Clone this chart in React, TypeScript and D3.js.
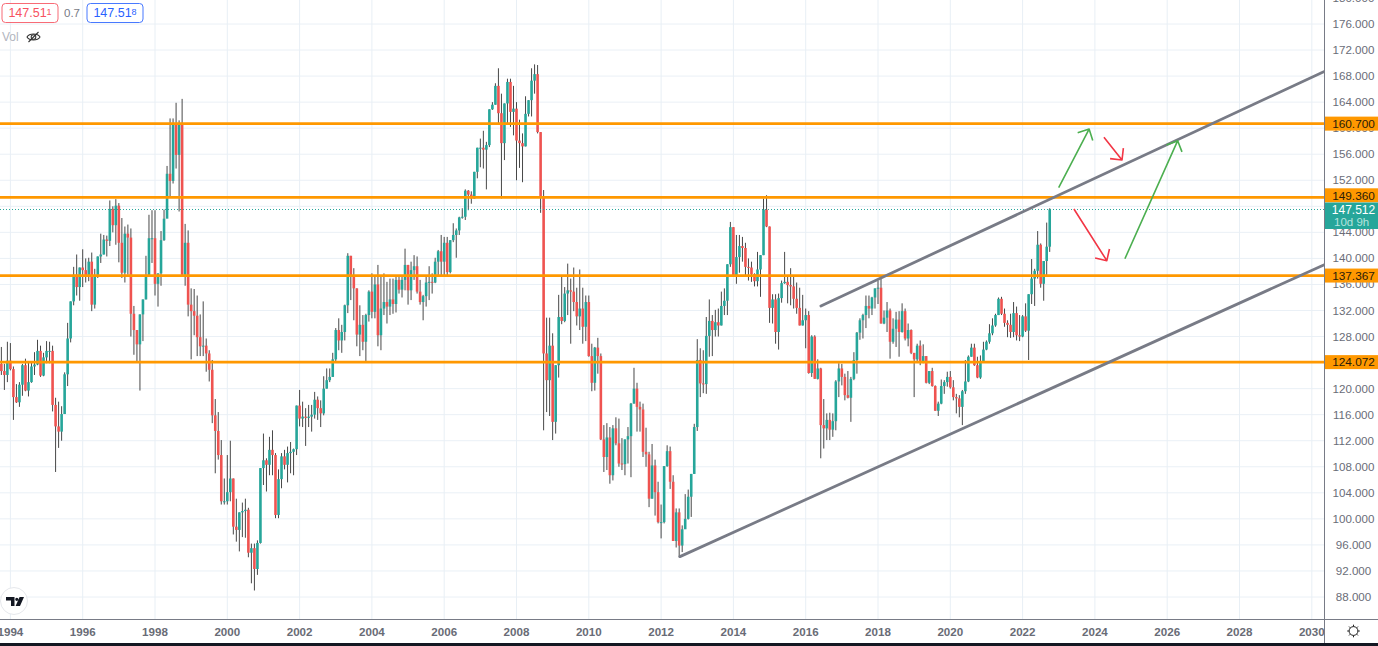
import React from "react";
import * as d3 from "d3";

// Monthly bars, first bar = Oct 1993, last bar = Oct 2022
const firstBarMonthsFromJan1994 = -3;
const firstOpen = 123.8;
const closes = [
  122.7,122.1,124.3,123.0,118.7,117.9,120.6,123.6,119.7,121.0,123.4,123.7,
  125.8,122.0,124.8,125.8,125.8,117.5,114.2,113.4,116.1,122.2,127.7,133.4,
  137.5,135.6,138.6,138.2,137.2,139.5,132.9,137.4,140.3,140.6,142.9,142.7,
  147.6,145.1,148.1,142.4,137.8,143.8,143.2,131.5,129.0,126.8,131.4,133.7,
  137.4,143.1,143.1,136.1,137.7,142.8,146.1,153.0,151.9,160.7,155.9,160.7,
  137.5,142.4,132.9,131.9,131.2,127.9,126.5,126.6,125.4,122.9,115.9,113.5,
  109.8,102.7,102.7,104.1,106.2,98.8,98.3,101.0,101.2,101.4,94.8,95.5,
  92.3,96.3,107.8,109.0,108.3,110.6,109.8,100.6,106.1,109.6,108.3,110.1,
  110.3,110.7,117.4,115.4,115.7,115.5,115.7,116.0,118.3,117.0,116.2,120.0,
  121.3,121.8,124.5,129.0,127.4,128.7,132.8,140.4,137.2,135.4,128.3,129.8,
  127.2,131.3,134.9,131.8,136.0,128.2,132.3,133.3,132.6,133.7,133.0,136.7,
  135.2,136.7,139.0,135.1,138.2,138.8,134.9,133.3,134.2,136.3,136.4,136.3,
  139.5,141.1,139.5,142.4,137.9,142.8,143.6,144.3,146.3,146.4,150.4,149.8,
  149.2,153.3,157.0,157.0,156.7,157.4,162.9,163.6,166.5,162.3,157.7,163.8,
  167.1,162.5,163.0,158.1,157.7,157.2,162.2,164.3,167.3,168.3,159.4,149.5,
  125.4,121.3,126.6,114.9,123.6,131.0,130.4,134.6,135.1,134.9,133.3,131.1,
  132.3,129.5,133.3,125.0,120.9,126.3,125.0,112.2,109.5,112.5,106.7,113.9,
  111.6,108.5,108.4,112.2,112.7,117.7,120.0,117.2,116.8,110.3,109.9,103.1,
  108.2,104.1,99.5,99.5,108.1,110.4,105.7,96.6,101.0,95.9,98.4,100.0,
  103.4,106.9,114.1,124.4,120.8,120.7,128.1,130.4,129.0,130.2,129.7,132.7,
  133.5,139.1,144.8,137.4,140.2,141.9,141.6,138.7,138.6,137.6,136.5,138.3,
  140.5,147.5,144.9,132.4,133.7,128.7,133.9,136.2,136.4,135.9,135.7,133.8,
  132.4,129.7,130.5,131.3,122.4,128.0,121.5,123.1,114.4,113.9,115.2,113.7,
  115.0,121.1,123.1,121.8,119.0,118.6,121.5,124.4,128.6,130.5,131.3,132.7,
  132.3,134.0,135.4,135.5,130.0,130.9,132.0,127.2,129.2,130.6,128.7,131.9,
  127.7,129.0,125.5,124.5,126.6,124.1,125.0,120.9,122.7,120.4,116.6,117.7,
  120.4,121.0,121.8,120.2,118.7,118.5,117.2,119.6,121.1,124.9,126.3,123.6,
  121.7,124.1,126.0,127.2,128.5,129.7,131.3,133.8,131.5,130.1,129.8,128.7,
  131.6,128.2,128.0,131.1,128.9,134.5,136.9,138.1,142.1,136.1,139.6,141.8,147.512,
];
const highs = [
  126.4,123.8,127.2,127.0,123.4,120.7,121.0,123.8,124.6,124.1,124.2,125.6,
  127.5,126.6,125.5,127.3,127.2,126.6,118.6,118.0,117.3,122.5,130.1,133.4,
  138.7,140.6,138.6,141.4,140.0,140.1,140.9,138.4,140.3,143.8,143.6,143.5,
  148.9,148.0,149.1,148.5,146.2,144.9,145.2,144.6,132.7,129.0,131.4,133.7,
  140.4,146.7,147.4,147.4,137.7,144.2,147.5,154.2,161.5,161.5,163.9,161.2,
  164.5,145.3,144.3,135.4,135.3,134.3,131.4,133.4,127.7,125.9,124.4,118.4,
  116.4,112.1,106.2,109.8,112.0,106.2,103.1,101.0,102.5,103.1,101.7,96.2,
  96.2,96.7,107.8,113.1,109.3,112.6,113.6,110.1,107.6,110.1,110.6,111.1,
  111.8,110.8,117.4,119.8,118.0,117.0,117.5,117.5,119.5,118.8,118.2,121.9,
  123.1,123.1,125.5,129.3,130.8,129.8,132.9,140.8,140.4,138.5,135.4,132.8,
  131.3,131.5,135.1,137.7,137.4,139.0,137.4,137.7,136.4,136.9,136.9,137.4,
  137.4,137.3,141.5,139.0,139.5,140.5,140.3,136.7,134.4,137.2,138.8,137.7,
  140.1,141.3,143.6,143.3,143.3,142.8,145.4,144.6,146.4,147.7,150.6,150.5,
  150.3,153.3,157.0,158.4,159.6,157.9,162.9,164.0,166.9,169.2,165.3,163.8,
  167.6,167.6,166.5,164.0,161.3,159.2,164.9,164.3,169.2,169.8,169.7,159.4,
  150.5,130.9,130.9,128.5,123.6,134.4,137.3,135.6,139.2,136.9,138.6,135.5,
  138.3,135.5,134.3,134.3,126.9,126.4,127.8,125.4,114.4,114.7,114.1,114.4,
  115.6,115.4,112.4,112.2,114.1,117.8,123.2,120.9,118.0,117.7,114.0,110.3,
  111.5,109.1,105.7,102.2,108.1,111.3,111.1,106.7,101.6,101.6,99.0,103.8,
  104.5,106.9,114.6,127.6,126.2,125.9,131.0,133.7,131.3,132.1,132.3,134.9,
  135.4,139.1,145.6,144.8,143.6,143.6,143.3,142.4,140.0,139.5,137.7,141.0,
  140.5,149.2,149.7,144.9,134.5,134.5,134.6,136.6,141.0,137.2,138.5,137.4,
  136.3,135.5,134.4,132.3,131.9,128.2,128.2,124.5,123.2,118.4,116.2,116.3,
  116.2,121.3,123.9,123.8,122.3,122.7,121.8,125.6,128.7,130.8,131.5,134.3,
  134.3,134.1,135.4,136.6,137.4,132.0,133.3,132.3,130.8,131.8,131.9,133.1,
  132.3,130.0,129.1,125.4,126.9,127.4,126.8,125.0,122.7,123.2,120.5,118.0,
  121.4,121.3,122.6,122.7,121.3,119.2,119.0,119.8,124.4,125.1,126.9,126.9,
  124.9,125.1,127.2,127.4,129.9,130.8,131.5,134.0,134.1,132.3,130.5,131.5,
  133.3,132.6,131.3,131.3,133.1,134.5,139.9,138.4,144.2,142.3,139.6,145.5,147.7,
];
const lows = [
  122.1,119.8,121.0,122.8,115.2,117.8,117.2,118.9,119.6,118.8,120.9,122.1,
  123.6,121.8,121.9,123.9,123.9,116.5,107.2,110.9,112.0,116.1,120.4,127.1,
  132.8,134.3,133.5,135.6,136.3,136.5,131.9,132.3,137.0,139.3,140.6,140.3,
  141.9,144.0,142.1,139.4,137.0,136.3,137.5,128.0,125.2,124.1,119.7,127.3,
  133.7,137.2,139.3,134.3,132.6,135.8,142.7,147.2,149.3,151.5,153.8,147.2,
  137.4,135.8,131.1,124.5,128.2,125.0,125.0,125.0,122.6,121.1,114.7,107.0,
  109.1,102.2,102.2,102.2,102.7,97.6,96.5,95.0,97.2,97.1,94.1,90.1,
  89.0,91.4,96.2,105.2,104.2,106.7,106.7,100.1,100.1,104.7,107.6,105.6,
  107.0,106.7,109.8,114.2,114.1,111.2,114.1,113.4,115.4,115.2,114.1,115.9,
  120.0,121.0,121.8,124.1,125.9,125.5,127.4,131.6,133.6,130.5,126.5,125.0,
  125.9,124.1,130.3,130.8,130.8,126.5,125.9,131.3,130.0,131.3,131.5,131.7,
  134.6,134.0,135.1,132.9,133.6,136.7,134.6,132.9,130.5,132.6,133.6,134.6,
  136.2,137.4,137.4,137.3,137.2,137.7,142.5,140.1,143.6,146.1,145.9,147.4,
  148.4,149.2,152.3,154.0,153.8,150.6,157.1,162.8,163.6,160.5,149.2,155.1,
  160.7,160.2,158.9,152.0,153.9,151.7,157.2,161.8,161.8,165.3,159.2,147.0,
  113.6,116.4,115.8,112.1,113.1,121.7,129.9,130.2,131.3,126.9,131.9,129.7,
  129.0,126.9,127.3,124.9,119.6,119.7,122.3,112.1,107.2,107.5,105.4,105.9,
  111.3,108.0,107.5,106.7,108.5,106.4,117.7,113.4,113.4,109.5,108.0,101.8,
  103.1,100.5,99.3,97.0,99.3,108.0,104.6,96.6,95.6,94.1,94.9,98.5,
  99.9,100.3,106.9,113.5,118.7,119.3,119.2,124.9,125.0,128.0,128.0,129.7,
  131.3,131.3,138.7,137.4,136.1,137.8,139.5,137.4,136.6,136.4,135.7,135.7,
  134.1,140.5,144.8,130.1,130.0,126.9,126.0,133.2,136.1,133.1,132.8,132.3,
  131.5,129.7,129.7,126.2,122.3,121.8,121.5,121.4,109.3,110.8,112.1,112.1,
  112.6,113.6,118.7,120.5,118.2,118.5,114.9,121.3,122.3,127.5,127.7,129.3,
  130.8,131.3,132.3,133.0,130.0,129.9,128.7,124.6,126.9,126.4,124.9,128.6,
  127.4,126.5,125.3,118.7,124.1,123.6,123.9,120.8,120.7,120.3,116.6,115.8,
  117.6,119.2,120.3,120.0,118.2,116.2,115.6,114.4,119.2,121.0,124.9,123.5,
  121.6,121.5,124.1,125.9,126.9,128.2,129.5,131.3,131.3,129.5,127.9,127.8,
  127.9,127.4,127.3,127.9,128.7,124.4,133.0,132.7,136.9,135.5,133.5,137.4,141.0,
];

const yearTicks = [1994, 1996, 1998, 2000, 2002, 2004, 2006, 2008, 2010, 2012, 2014, 2016, 2018, 2020, 2022, 2024, 2026, 2028, 2030];
const priceTicks = [180, 176, 172, 168, 164, 160, 156, 152, 148, 144, 140, 136, 132, 128, 124, 120, 116, 112, 108, 104, 100, 96, 92, 88];
const pricesCoveredByLabels = [148, 124];
const levels = [160.7, 149.36, 137.367, 124.072];
const lastPrice = 147.512;

// Trend lines: [year, price] -> [year, price]
const trendLowerFrom = [2012.52, 94.2];
const trendLowerTo = [2030.33, 139.0];
const trendUpperFrom = [2016.42, 132.7];
const trendUpperTo = [2030.33, 168.67];

// Hand-drawn arrows: tail year, tail price, tip year, tip price
const greenArrows = [
  [2022.998, 150.86, 2023.84, 159.87],
  [2024.83, 139.95, 2026.29, 158.08],
];
const redArrows = [
  [2024.25, 158.6, 2024.75, 155.11],
  [2023.42, 147.59, 2024.33, 139.65],
];

const W = 1378;
const H = 646;
const axisX = 1324.5;
const axisY = 619.5;
const FONT = "'Liberation Sans', Arial, sans-serif";

const x = d3.scaleLinear().domain([1994, 2030]).range([10.4, 1311.8]);
const y = d3.scaleLinear().domain([88, 176]).range([597, 24]);

const bars = closes.map((c, i) => ({
  t: 1994 + (firstBarMonthsFromJan1994 + i) / 12,
  o: i === 0 ? firstOpen : closes[i - 1],
  h: highs[i],
  l: lows[i],
  c,
}));

function Arrow({ a, color }: { a: number[]; color: string }) {
  const x0 = x(a[0]), y0 = y(a[1]), x1 = x(a[2]), y1 = y(a[3]);
  const ang = Math.atan2(y0 - y1, x0 - x1);
  const len = 12;
  const b1 = [x1 + len * Math.cos(ang + Math.PI / 4), y1 + len * Math.sin(ang + Math.PI / 4)];
  const b2 = [x1 + len * Math.cos(ang - Math.PI / 4), y1 + len * Math.sin(ang - Math.PI / 4)];
  return (
    <path
      d={`M${x0},${y0}L${x1},${y1}M${b1[0]},${b1[1]}L${x1},${y1}L${b2[0]},${b2[1]}`}
      fill="none"
      stroke={color}
      strokeWidth={1.6}
      strokeLinejoin="round"
    />
  );
}

function Pill({ px, w, color, main, sup }: { px: number; w: number; color: string; main: string; sup: string }) {
  return (
    <g>
      <rect x={px} y={3.5} width={w} height={19} rx={3.5} fill="#fff" stroke={color} strokeWidth={1} opacity={0.85} />
      <text x={px + w / 2} y={17.3} textAnchor="middle" fontSize={12.5} fill={color}>
        {main}
        <tspan fontSize={9} dy={-2}>{sup}</tspan>
      </text>
    </g>
  );
}

function PriceLabel({ price, cy }: { price: number; cy: number }) {
  return (
    <g>
      <rect x={axisX} y={cy - 7} width={W - axisX} height={14} fill="#ff9800" />
      <text x={1353.5} y={cy + 4.2} textAnchor="middle" fontSize={11.8} fill="#2a1c08">{price.toFixed(3)}</text>
    </g>
  );
}

export default function App() {
  return (
    <svg
      width={W}
      height={H}
      viewBox={`0 0 ${W} ${H}`}
      style={{ position: "absolute", left: 0, top: 0, display: "block", background: "#fff" }}
      fontFamily={FONT}
    >
      <defs>
        <clipPath id="plot"><rect x={0} y={0} width={axisX} height={axisY} /></clipPath>
      </defs>

      <g clipPath="url(#plot)">
        {priceTicks.map((p) => (
          <line key={p} x1={0} x2={axisX} y1={y(p)} y2={y(p)} stroke="#eaf0f6" strokeWidth={1} />
        ))}
        {yearTicks.map((t) => (
          <line key={t} x1={x(t)} x2={x(t)} y1={0} y2={axisY} stroke="#e8eff5" strokeWidth={1} />
        ))}

        {bars.map((b) => (
          <line key={`w${b.t}`} x1={x(b.t)} x2={x(b.t)} y1={y(b.h)} y2={y(b.l)} stroke="#484848" strokeWidth={1} />
        ))}
        {bars.map((b) => {
          const up = b.c >= b.o;
          const top = y(Math.max(b.o, b.c));
          const bottom = y(Math.min(b.o, b.c));
          return (
            <rect
              key={`b${b.t}`}
              x={x(b.t) - 1.3}
              width={2.6}
              y={top}
              height={Math.max(bottom - top, 1)}
              fill={up ? "#26a69a" : "#ef5350"}
            />
          );
        })}

        <line x1={0} x2={axisX} y1={y(lastPrice)} y2={y(lastPrice)} stroke="#26a69a" strokeWidth={1} strokeDasharray="1 2" />

        {levels.map((p) => (
          <line key={p} x1={0} x2={axisX} y1={y(p)} y2={y(p)} stroke="#ff9800" strokeWidth={2.8} />
        ))}

        {[[trendLowerFrom, trendLowerTo], [trendUpperFrom, trendUpperTo]].map(([a, b], i) => (
          <line key={i} x1={x(a[0])} y1={y(a[1])} x2={x(b[0])} y2={y(b[1])} stroke="#787b86" strokeWidth={2.8} strokeLinecap="round" />
        ))}

        {greenArrows.map((a, i) => <Arrow key={i} a={a} color="#4caf50" />)}
        {redArrows.map((a, i) => <Arrow key={i} a={a} color="#f23645" />)}
      </g>

      {/* header */}
      <Pill px={2} w={56} color="#f7525f" main="147.51" sup="1" />
      <text x={72} y={17.3} textAnchor="middle" fontSize={11.5} fill="#787b86">0.7</text>
      <Pill px={87} w={56} color="#2962ff" main="147.51" sup="8" />
      <text x={2} y={41} fontSize={12} fill="#b2b5be">Vol</text>
      <g transform="translate(33.5,37)" fill="none" stroke="#333" strokeWidth={1.1}>
        <path d="M-6.5,0C-4,-4 4,-4 6.5,0C4,4 -4,4 -6.5,0Z" />
        <circle r={2.3} />
        <line x1={-5} y1={5} x2={5} y2={-5} />
      </g>

      {/* logo */}
      <circle cx={14} cy={601} r={13.5} fill="#fff" stroke="#e6e8ec" strokeWidth={1} />
      <path d="M6,597H14.5V606H11V600.4H6ZM15.2,599.3a1.6,1.6 0 1 0 3.2,0a1.6,1.6 0 1 0 -3.2,0ZM19.6,597H24L20,606H15.6Z" fill="#131722" />

      {/* price axis */}
      <rect x={axisX} y={0} width={W - axisX} height={axisY} fill="#fff" />
      {priceTicks.filter((p) => !pricesCoveredByLabels.includes(p)).map((p) => (
        <text key={p} x={1353.5} y={y(p) + 4} textAnchor="middle" fontSize={11.6} fill="#6a6d78">{p.toFixed(3)}</text>
      ))}
      <PriceLabel price={levels[0]} cy={y(levels[0])} />
      <PriceLabel price={levels[1]} cy={195.3} />
      <PriceLabel price={levels[2]} cy={y(levels[2])} />
      <PriceLabel price={levels[3]} cy={y(levels[3])} />
      <rect x={axisX} y={202.5} width={W - axisX} height={26.5} fill="#26a69a" />
      <text x={1353.5} y={214} textAnchor="middle" fontSize={12} fill="#fff">{lastPrice.toFixed(3)}</text>
      <text x={1334} y={226} fontSize={11.5} fill="#b5e3dd">10d 9h</text>

      {/* time axis */}
      <rect x={0} y={axisY} width={W} height={H - axisY} fill="#fff" />
      {yearTicks.map((t) => (
        <text key={t} x={x(t)} y={635.5} textAnchor="middle" fontSize={11.6} fontWeight={700} fill="#696c76">{t}</text>
      ))}
      <line x1={0} x2={W} y1={axisY} y2={axisY} stroke="#787b86" strokeWidth={1} />
      <line x1={axisX} x2={axisX} y1={0} y2={643} stroke="#787b86" strokeWidth={1} />
      <rect x={0} y={643} width={W} height={3} fill="#131722" />

      {/* settings */}
      <g transform="translate(1353.5,631)" fill="none" stroke="#222" strokeWidth={1}>
        <circle r={4.4} />
        {d3.range(8).map((i) => {
          const a = (i * Math.PI) / 4;
          return <line key={i} x1={4.4 * Math.cos(a)} y1={4.4 * Math.sin(a)} x2={6.3 * Math.cos(a)} y2={6.3 * Math.sin(a)} />;
        })}
      </g>
    </svg>
  );
}
